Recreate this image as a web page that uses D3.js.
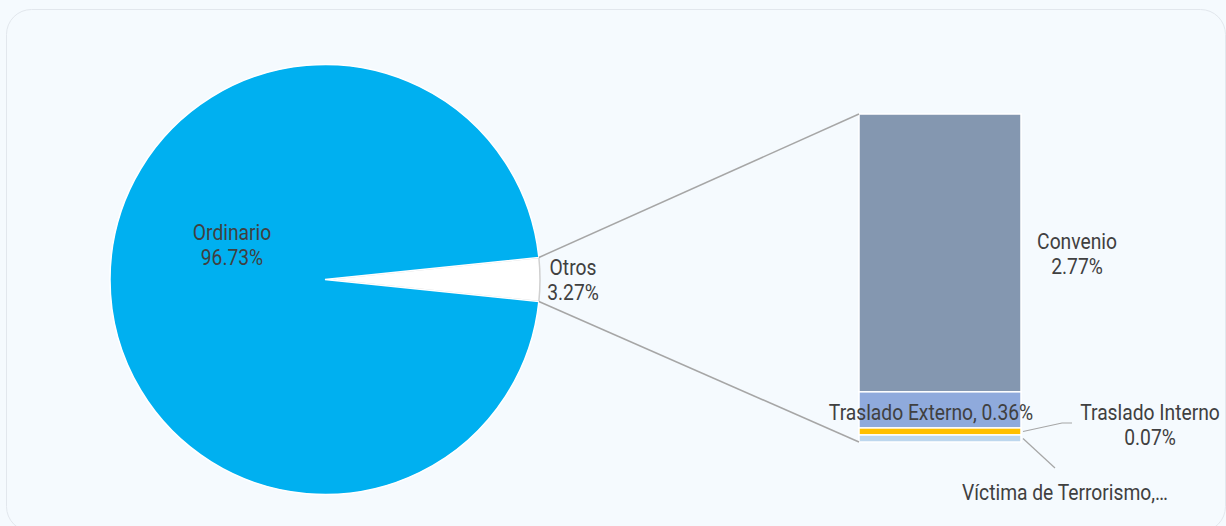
<!DOCTYPE html>
<html>
<head>
<meta charset="utf-8">
<script src="https://cdn.jsdelivr.net/npm/d3@7"></script>
<style>
  html, body { margin: 0; padding: 0; background: #f5fafe; }
  #chart { width: 1226px; height: 526px; overflow: hidden; }
  text { font-family: "Roboto", sans-serif; fill: #404040; font-size: 22px; }
</style>
</head>
<body>
<div id="chart"></div>
<script>
// pie values (%)
const pieCats = ["Ordinario", "Otros"];
const pieVals = [96.73, 3.27];
// breakdown of "Otros" (%)
const barCats = ["Convenio", "Traslado Externo", "Traslado Interno", "Víctima de Terrorismo"];
const barVals = [2.77, 0.36, 0.07, 0.07];
const barColors = ["#8497b0", "#8faadc", "#ffc000", "#bdd7ee"];

const W = 1226, H = 526;
const svg = d3.select("#chart").append("svg")
    .attr("width", W).attr("height", H);

// card
svg.append("rect")
    .attr("x", 6.5).attr("y", 9.5)
    .attr("width", 1219).attr("height", 522)
    .attr("rx", 25).attr("ry", 25)
    .attr("fill", "#f5fafe")
    .attr("stroke", "#e2e7ed");

// ---- pie
const cx = 325, cy = 279.5, r = 215;
const otrosFrac = pieVals[1] / d3.sum(pieVals);
const half = Math.PI * otrosFrac;

const pie = d3.pie().sort(null).value(d => d.v)
    .startAngle(Math.PI / 2 - half)
    .endAngle(Math.PI / 2 - half + 2 * Math.PI);
const pieData = pie([{c: pieCats[1], v: pieVals[1]}, {c: pieCats[0], v: pieVals[0]}]);
const arc = d3.arc().innerRadius(0).outerRadius(r);

const pieG = svg.append("g").attr("transform", `translate(${cx},${cy})`);
pieG.selectAll("path")
    .data(pieData)
    .join("path")
    .attr("d", arc)
    .attr("fill", d => d.data.c === "Otros" ? "#ffffff" : "#00b0f0")
    .attr("stroke", d => d.data.c === "Otros" ? "#d0d0d0" : "#ffffff")
    .attr("stroke-width", 1.5);

// ---- bar
const bx = 859, bw = 162;
const y = d3.scaleLinear().domain([0, d3.sum(barVals)]).range([114, 442]);
const cum = barVals.map((v, i) => d3.sum(barVals.slice(0, i)));

svg.append("g").selectAll("rect")
    .data(barVals)
    .join("rect")
    .attr("x", bx)
    .attr("y", (d, i) => y(cum[i]))
    .attr("width", bw)
    .attr("height", (d, i) => y(cum[i] + d) - y(cum[i]))
    .attr("fill", (d, i) => barColors[i])
    .attr("stroke", "#ffffff")
    .attr("stroke-width", 1.5);

// connector lines pie -> bar
const otros = pieData[0];
const p1 = [cx + r * Math.sin(otros.startAngle), cy - r * Math.cos(otros.startAngle)];
const p2 = [cx + r * Math.sin(otros.endAngle), cy - r * Math.cos(otros.endAngle)];
svg.append("line")
    .attr("x1", p1[0]).attr("y1", p1[1]).attr("x2", bx).attr("y2", y(0))
    .attr("stroke", "#a6a6a6").attr("stroke-width", 1.5);
svg.append("line")
    .attr("x1", p2[0]).attr("y1", p2[1]).attr("x2", bx).attr("y2", y(d3.sum(barVals)))
    .attr("stroke", "#a6a6a6").attr("stroke-width", 1.5);

// ---- labels (narrow look: squeeze Roboto horizontally)
function label(lines, x, yy) {
    const g = svg.append("g").attr("transform", `translate(${x},${yy}) scale(0.875,1)`);
    const t = g.append("text").attr("text-anchor", "middle");
    lines.forEach((s, i) => {
        t.append("tspan").attr("x", 0).attr("y", i * 25.5).text(s);
    });
}
const fmt = v => v.toFixed(2) + "%";
label([pieCats[0], fmt(pieVals[0])], 232, 240);
label([pieCats[1], fmt(pieVals[1])], 573, 275);
label([barCats[0], fmt(barVals[0])], 1077, 249);
label([barCats[1] + ", " + fmt(barVals[1])], 931, 420);
label([barCats[2], fmt(barVals[2])], 1150, 420);
label(["Víctima de Terrorismo,…"], 1065, 500);

// leader lines for small segments
const midY = i => y(cum[i] + barVals[i] / 2);
svg.append("polyline")
    .attr("points", `${bx + bw + 2},${midY(2)} ${1062},${423} ${1072},${423}`)
    .attr("fill", "none").attr("stroke", "#a6a6a6").attr("stroke-width", 1.2);
svg.append("polyline")
    .attr("points", `${bx + bw + 2},${midY(3)} ${1055},${468}`)
    .attr("fill", "none").attr("stroke", "#a6a6a6").attr("stroke-width", 1.2);
</script>
</body>
</html>
